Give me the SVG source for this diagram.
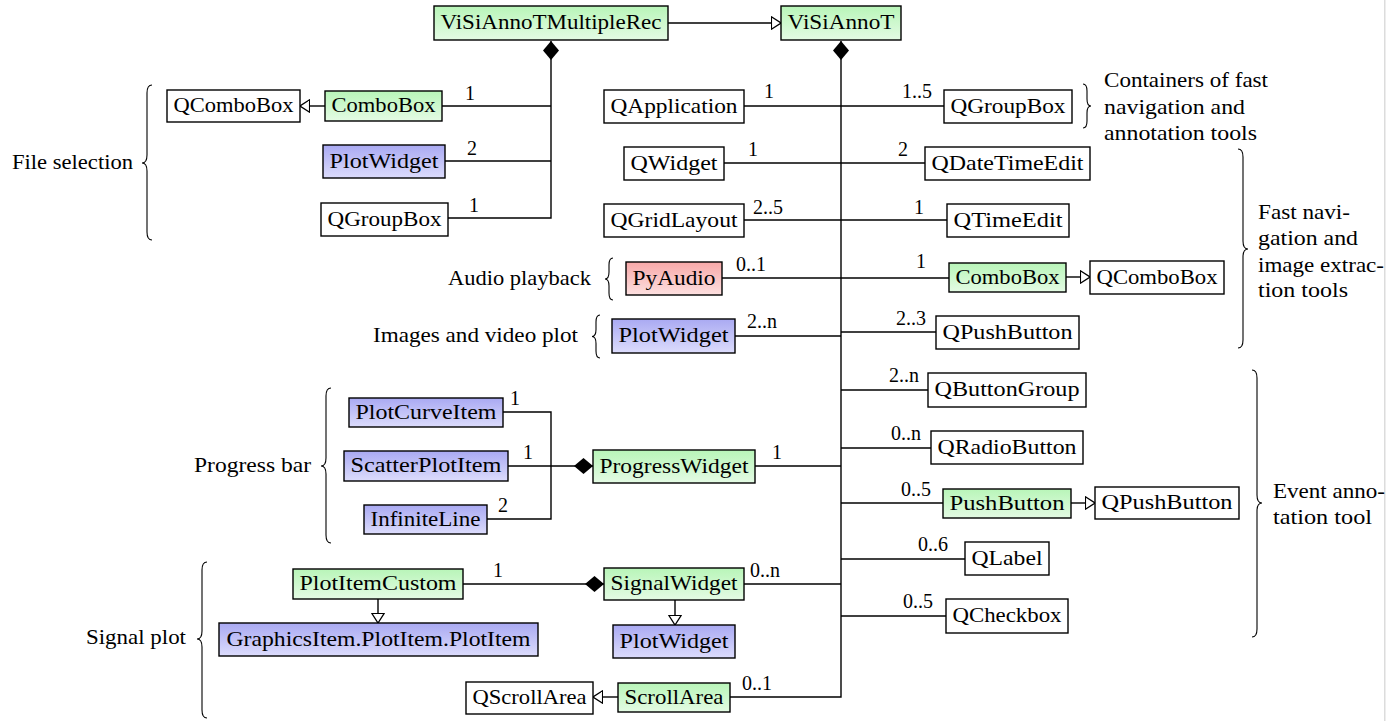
<svg xmlns="http://www.w3.org/2000/svg" width="1386" height="721" viewBox="0 0 1386 721" font-family="'Liberation Serif', 'DejaVu Serif', serif">
<defs>
<linearGradient id="gg" x1="0" y1="0" x2="0" y2="1"><stop offset="0" stop-color="#b8f5b8"/><stop offset="1" stop-color="#e4fbe4"/></linearGradient>
<linearGradient id="gb" x1="0" y1="0" x2="0" y2="1"><stop offset="0" stop-color="#a9a9f2"/><stop offset="1" stop-color="#dcdcfc"/></linearGradient>
<linearGradient id="gr" x1="0" y1="0" x2="0" y2="1"><stop offset="0" stop-color="#f7a8a8"/><stop offset="1" stop-color="#fde0e0"/></linearGradient>
<marker id="tri" viewBox="0 0 11 14" refX="10.3" refY="7" markerWidth="11" markerHeight="14" markerUnits="userSpaceOnUse" orient="auto"><path d="M0.7,0.8 L10.3,7 L0.7,13.2 Z" fill="#fff" stroke="#000" stroke-width="1.3"/></marker>
<marker id="dia" viewBox="0 0 19 17" refX="0" refY="8.5" markerWidth="19" markerHeight="17" markerUnits="userSpaceOnUse" orient="auto"><path d="M0,8.5 L9.5,0.5 L19,8.5 L9.5,16.5 Z" fill="#000"/></marker>
<style>
text{font-family:'Liberation Serif','DejaVu Serif',serif;font-size:21px;fill:#000}
.t{text-anchor:middle}
.m{font-size:20px}
.e{text-anchor:end}
rect{stroke:#000;stroke-width:1.4}
.g{fill:url(#gg)}.b{fill:url(#gb)}.r{fill:url(#gr)}.w{fill:#fff}
.ln{stroke:#000;stroke-width:1.4;fill:none}
.inh{marker-end:url(#tri)}
.cmp{marker-start:url(#dia)}
.br{stroke:#000;stroke-width:1.1;fill:none}
</style>
</defs>
<rect x="1384" y="0" width="1.5" height="721" fill="#dcdcdc" style="stroke:none"/>

<g id="connectors">
<path class="ln inh" d="M668,23 H781"/>
<path class="ln cmp" d="M551,41 V218 H448"/>
<path class="ln" d="M442,106 H551"/>
<path class="ln" d="M445,161 H551"/>
<path class="ln inh" d="M325,106 H300"/>
<path class="ln cmp" d="M841,41 V697 H730"/>
<path class="ln" d="M744,106 H944"/>
<path class="ln" d="M724,163 H925"/>
<path class="ln" d="M744,220 H947"/>
<path class="ln" d="M722,278 H949"/>
<path class="ln inh" d="M1066,277 H1090"/>
<path class="ln" d="M735,336 H841"/>
<path class="ln" d="M841,332 H936"/>
<path class="ln" d="M841,390 H928"/>
<path class="ln" d="M841,448 H931"/>
<path class="ln" d="M841,503 H943"/>
<path class="ln inh" d="M1071,503 H1095"/>
<path class="ln" d="M841,559 H965"/>
<path class="ln" d="M841,616 H946"/>
<path class="ln" d="M755,466 H841"/>
<path class="ln" d="M744,584 H841"/>
<path class="ln" d="M503,412 H551 V519 H487"/>
<path class="ln cmp" d="M593,466 H508"/>
<path class="ln cmp" d="M604,584 H463"/>
<path class="ln inh" d="M378,599 V623"/>
<path class="ln inh" d="M675,600 V625"/>
<path class="ln inh" d="M618,697 H593"/>
</g>

<g id="multiplicities">
<text class="m" x="465" y="100">1</text>
<text class="m" x="467" y="155">2</text>
<text class="m" x="469" y="212">1</text>
<text class="m" x="764" y="98">1</text>
<text class="m" x="902" y="98">1..5</text>
<text class="m" x="748" y="156">1</text>
<text class="m" x="898" y="156">2</text>
<text class="m" x="753" y="214">2..5</text>
<text class="m" x="914" y="214">1</text>
<text class="m" x="736" y="271">0..1</text>
<text class="m" x="916" y="268">1</text>
<text class="m" x="747" y="328">2..n</text>
<text class="m" x="896" y="325">2..3</text>
<text class="m" x="889" y="382">2..n</text>
<text class="m" x="891" y="440">0..n</text>
<text class="m" x="901" y="496">0..5</text>
<text class="m" x="918" y="551">0..6</text>
<text class="m" x="903" y="608">0..5</text>
<text class="m" x="510" y="405">1</text>
<text class="m" x="523" y="459">1</text>
<text class="m" x="498" y="512">2</text>
<text class="m" x="772" y="459">1</text>
<text class="m" x="493" y="577">1</text>
<text class="m" x="750" y="577">0..n</text>
<text class="m" x="742" y="690">0..1</text>
</g>

<g id="nodes">
<g id="n_multirec"><rect class="g" x="434" y="6" width="234" height="34"/><text class="t" x="551" y="29" textLength="221" lengthAdjust="spacingAndGlyphs">ViSiAnnoTMultipleRec</text></g>
<g id="n_visiannot"><rect class="g" x="781" y="6" width="120" height="34"/><text class="t" x="841" y="29" textLength="107" lengthAdjust="spacingAndGlyphs">ViSiAnnoT</text></g>
<g id="n_fs_qcombobox"><rect class="w" x="167" y="90" width="133" height="32"/><text class="t" x="233.5" y="112" textLength="120" lengthAdjust="spacingAndGlyphs">QComboBox</text></g>
<g id="n_fs_combobox"><rect class="g" x="325" y="91" width="117" height="30"/><text class="t" x="383.5" y="112" textLength="104" lengthAdjust="spacingAndGlyphs">ComboBox</text></g>
<g id="n_fs_plotwidget"><rect class="b" x="323" y="145" width="122" height="33"/><text class="t" x="384" y="167.5" textLength="109" lengthAdjust="spacingAndGlyphs">PlotWidget</text></g>
<g id="n_fs_qgroupbox"><rect class="w" x="321" y="203" width="127" height="33"/><text class="t" x="384.5" y="225.5" textLength="114" lengthAdjust="spacingAndGlyphs">QGroupBox</text></g>
<g id="n_qapplication"><rect class="w" x="604" y="90" width="140" height="33"/><text class="t" x="674" y="112.5" textLength="127" lengthAdjust="spacingAndGlyphs">QApplication</text></g>
<g id="n_qgroupbox"><rect class="w" x="944" y="90" width="128" height="33"/><text class="t" x="1008" y="112.5" textLength="115" lengthAdjust="spacingAndGlyphs">QGroupBox</text></g>
<g id="n_qwidget"><rect class="w" x="624" y="147" width="100" height="33"/><text class="t" x="674" y="169.5" textLength="87" lengthAdjust="spacingAndGlyphs">QWidget</text></g>
<g id="n_qdatetimeedit"><rect class="w" x="925" y="147" width="165" height="33"/><text class="t" x="1007.5" y="169.5" textLength="152" lengthAdjust="spacingAndGlyphs">QDateTimeEdit</text></g>
<g id="n_qgridlayout"><rect class="w" x="604" y="204" width="140" height="33"/><text class="t" x="674" y="226.5" textLength="127" lengthAdjust="spacingAndGlyphs">QGridLayout</text></g>
<g id="n_qtimeedit"><rect class="w" x="947" y="204" width="122" height="33"/><text class="t" x="1008" y="226.5" textLength="109" lengthAdjust="spacingAndGlyphs">QTimeEdit</text></g>
<g id="n_pyaudio"><rect class="r" x="626" y="262" width="96" height="33"/><text class="t" x="674" y="284.5" textLength="83" lengthAdjust="spacingAndGlyphs">PyAudio</text></g>
<g id="n_combobox"><rect class="g" x="949" y="263" width="117" height="29"/><text class="t" x="1007.5" y="283.5" textLength="104" lengthAdjust="spacingAndGlyphs">ComboBox</text></g>
<g id="n_qcombobox"><rect class="w" x="1090" y="261" width="134" height="33"/><text class="t" x="1157" y="283.5" textLength="121" lengthAdjust="spacingAndGlyphs">QComboBox</text></g>
<g id="n_ivp_plotwidget"><rect class="b" x="612" y="319" width="123" height="34"/><text class="t" x="673.5" y="342" textLength="110" lengthAdjust="spacingAndGlyphs">PlotWidget</text></g>
<g id="n_qpushbutton1"><rect class="w" x="936" y="316" width="143" height="33"/><text class="t" x="1007.5" y="338.5" textLength="130" lengthAdjust="spacingAndGlyphs">QPushButton</text></g>
<g id="n_qbuttongroup"><rect class="w" x="928" y="373" width="158" height="34"/><text class="t" x="1007" y="396" textLength="145" lengthAdjust="spacingAndGlyphs">QButtonGroup</text></g>
<g id="n_qradiobutton"><rect class="w" x="931" y="431" width="152" height="33"/><text class="t" x="1007" y="453.5" textLength="139" lengthAdjust="spacingAndGlyphs">QRadioButton</text></g>
<g id="n_pushbutton"><rect class="g" x="943" y="489" width="128" height="29"/><text class="t" x="1007" y="509.5" textLength="115" lengthAdjust="spacingAndGlyphs">PushButton</text></g>
<g id="n_qpushbutton2"><rect class="w" x="1095" y="487" width="144" height="32"/><text class="t" x="1167" y="509" textLength="131" lengthAdjust="spacingAndGlyphs">QPushButton</text></g>
<g id="n_qlabel"><rect class="w" x="965" y="542" width="84" height="33"/><text class="t" x="1007" y="564.5" textLength="71" lengthAdjust="spacingAndGlyphs">QLabel</text></g>
<g id="n_qcheckbox"><rect class="w" x="946" y="599" width="122" height="34"/><text class="t" x="1007" y="622" textLength="109" lengthAdjust="spacingAndGlyphs">QCheckbox</text></g>
<g id="n_plotcurveitem"><rect class="b" x="349" y="398" width="154" height="29"/><text class="t" x="426" y="418.5" textLength="141" lengthAdjust="spacingAndGlyphs">PlotCurveItem</text></g>
<g id="n_scatterplotitem"><rect class="b" x="344" y="451" width="164" height="30"/><text class="t" x="426" y="472" textLength="151" lengthAdjust="spacingAndGlyphs">ScatterPlotItem</text></g>
<g id="n_infiniteline"><rect class="b" x="364" y="505" width="123" height="29"/><text class="t" x="425.5" y="525.5" textLength="110" lengthAdjust="spacingAndGlyphs">InfiniteLine</text></g>
<g id="n_progresswidget"><rect class="g" x="593" y="450" width="162" height="33"/><text class="t" x="674" y="472.5" textLength="149" lengthAdjust="spacingAndGlyphs">ProgressWidget</text></g>
<g id="n_plotitemcustom"><rect class="g" x="293" y="569" width="170" height="30"/><text class="t" x="378" y="590" textLength="157" lengthAdjust="spacingAndGlyphs">PlotItemCustom</text></g>
<g id="n_signalwidget"><rect class="g" x="604" y="568" width="140" height="32"/><text class="t" x="674" y="590" textLength="127" lengthAdjust="spacingAndGlyphs">SignalWidget</text></g>
<g id="n_graphicsitem"><rect class="b" x="219" y="623" width="319" height="33"/><text class="t" x="378.5" y="645.5" textLength="304" lengthAdjust="spacingAndGlyphs">GraphicsItem.PlotItem.PlotItem</text></g>
<g id="n_sig_plotwidget"><rect class="b" x="613" y="625" width="122" height="33"/><text class="t" x="674" y="647.5" textLength="109" lengthAdjust="spacingAndGlyphs">PlotWidget</text></g>
<g id="n_scrollarea"><rect class="g" x="618" y="683" width="112" height="29"/><text class="t" x="674" y="703.5" textLength="99" lengthAdjust="spacingAndGlyphs">ScrollArea</text></g>
<g id="n_qscrollarea"><rect class="w" x="466" y="682" width="127" height="32"/><text class="t" x="529.5" y="704" textLength="114" lengthAdjust="spacingAndGlyphs">QScrollArea</text></g>
</g>

<g id="braces">
<path class="br" d="M152,85 Q147,85 147,93 L147,155 Q147,163 142,163 Q147,163 147,171 L147,232 Q147,240 152,240"/>
<path class="br" d="M613,258 Q609,258 609,265 L609,272 Q609,279 605,279 Q609,279 609,286 L609,293 Q609,300 613,300"/>
<path class="br" d="M600,315 Q596,315 596,322 L596,329.5 Q596,336.5 592,336.5 Q596,336.5 596,343.5 L596,351 Q596,358 600,358"/>
<path class="br" d="M331,388 Q326,388 326,396 L326,458 Q326,466 321,466 Q326,466 326,474 L326,535 Q326,543 331,543"/>
<path class="br" d="M207,562 Q202,562 202,570 L202,631 Q202,639 197,639 Q202,639 202,647 L202,710 Q202,718 207,718"/>
<path class="br" d="M1083,84 Q1087,84 1087,91 L1087,99 Q1087,106 1091,106 Q1087,106 1087,113 L1087,121 Q1087,128 1083,128"/>
<path class="br" d="M1238,149 Q1243,149 1243,157 L1243,241 Q1243,249 1248,249 Q1243,249 1243,257 L1243,340 Q1243,348 1238,348"/>
<path class="br" d="M1252,370 Q1257,370 1257,378 L1257,495 Q1257,503 1262,503 Q1257,503 1257,511 L1257,629 Q1257,637 1252,637"/>
</g>

<g id="group_labels">
<text class="e" x="133" y="169" textLength="121" lengthAdjust="spacingAndGlyphs">File selection</text>
<text class="e" x="591" y="285" textLength="143" lengthAdjust="spacingAndGlyphs">Audio playback</text>
<text class="e" x="578" y="342" textLength="205" lengthAdjust="spacingAndGlyphs">Images and video plot</text>
<text class="e" x="311" y="472" textLength="117" lengthAdjust="spacingAndGlyphs">Progress bar</text>
<text class="e" x="186" y="644" textLength="100" lengthAdjust="spacingAndGlyphs">Signal plot</text>
<text x="1104" y="87" textLength="164" lengthAdjust="spacingAndGlyphs">Containers of fast</text>
<text x="1104" y="114" textLength="141" lengthAdjust="spacingAndGlyphs">navigation and</text>
<text x="1104" y="140" textLength="153" lengthAdjust="spacingAndGlyphs">annotation tools</text>
<text x="1258" y="219" textLength="92" lengthAdjust="spacingAndGlyphs">Fast navi-</text>
<text x="1258" y="245" textLength="100" lengthAdjust="spacingAndGlyphs">gation and</text>
<text x="1258" y="272" textLength="126" lengthAdjust="spacingAndGlyphs">image extrac-</text>
<text x="1258" y="297" textLength="90" lengthAdjust="spacingAndGlyphs">tion tools</text>
<text x="1273" y="498" textLength="112" lengthAdjust="spacingAndGlyphs">Event anno-</text>
<text x="1273" y="524" textLength="99" lengthAdjust="spacingAndGlyphs">tation tool</text>
</g>
</svg>
